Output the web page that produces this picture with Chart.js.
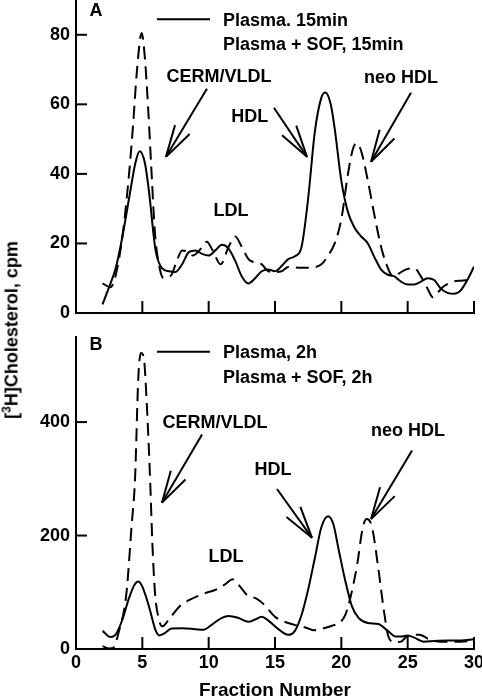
<!DOCTYPE html>
<html>
<head>
<meta charset="utf-8">
<script src="https://cdn.jsdelivr.net/npm/chart.js@4.4.1/dist/chart.umd.min.js"></script>
<style>
  body { margin: 0; background: #fff; width: 482px; height: 698px; position: relative; overflow: hidden; }
  canvas { position: absolute; left: 0; }
  #ytitle {
    position: absolute; left: 12px; top: 330px; line-height: 1; white-space: nowrap;
    font: bold 18px "Liberation Sans", Arial, sans-serif;
    transform: translate(-50%, -50%) rotate(-90deg);
  }
  #ytitle sup { font-size: 12px; line-height: 0; }
</style>
</head>
<body>
<canvas id="chartA" width="482" height="330" style="top:0"></canvas>
<canvas id="chartB" width="482" height="368" style="top:330px"></canvas>
<div id="ytitle">[<sup>3</sup>H]Cholesterol, cpm</div>

<script>
// Panel A - 15 min
const fracA_plasma = [2, 2.5, 3, 3.5, 4, 4.5, 4.8, 5.2, 5.5, 6, 6.5, 7, 7.5, 8, 8.5, 9, 9.5, 10, 10.5, 11, 11.5, 12, 12.5, 13, 13.5, 14, 14.5, 15, 15.5, 16, 16.5, 17, 17.5, 18, 18.5, 18.8, 19.2, 19.5, 20, 20.5, 21, 21.5, 22, 22.5, 23, 23.5, 24, 24.5, 25, 25.5, 26, 26.5, 27, 27.5, 28, 28.5, 29, 29.5, 30];
const cpmA_plasma  = [2.5, 7.5, 13, 22, 33, 43.5, 46.5, 43, 35, 18, 12.8, 12, 11.8, 14, 17.5, 18, 17, 16.5, 18, 19.6, 18.5, 15, 10.5, 8.5, 10, 12, 12.5, 12, 13.5, 15.5, 16.3, 19, 33, 52, 62, 63.4, 60, 53, 38, 29, 24.5, 22, 20, 16, 12.5, 11, 10.5, 9, 8.2, 8.2, 9, 10, 9.5, 7, 5.8, 5.5, 6.5, 9.5, 13.3];
const fracA_sof = [2, 2.6, 3, 3.5, 4, 4.3, 4.6, 4.95, 5.2, 5.45, 5.7, 5.95, 6.3, 6.6, 7.2, 7.6, 8, 8.5, 8.8, 9.3, 9.85, 10.3, 10.9, 11.5, 12, 12.5, 13, 13.5, 14, 14.5, 15, 15.5, 16, 17, 18, 18.5, 19, 19.5, 20, 20.5, 20.9, 21.2, 21.5, 22, 22.5, 23, 23.4, 23.9, 24.4, 24.8, 25.5, 26, 26.5, 26.9, 27.3, 27.7, 28.4, 29, 29.6];
const cpmA_sof  = [8.5, 7.4, 11, 22, 40, 54, 70, 80.5, 73, 58, 40, 23, 13, 10, 11, 15, 18, 17.5, 16.5, 18, 20.5, 18, 14, 19, 22, 19, 15.5, 14.5, 14, 12, 11.8, 12, 13.2, 13, 13.2, 14, 16.5, 20, 27, 40, 47.5, 48.8, 46.5, 38, 28, 19, 14, 10.5, 11.5, 12.4, 12.9, 10.5, 7, 4.5, 6, 7.6, 9, 9.3, 9.5];

// Panel B - 2 h
const fracB_plasma = [2, 2.6, 3, 3.5, 4, 4.4, 4.7, 5, 5.5, 6, 6.3, 6.7, 7.2, 8, 9, 9.6, 10.3, 11, 11.5, 12.2, 13, 13.5, 14, 14.5, 15.2, 16, 16.5, 17, 17.5, 18, 18.5, 19, 19.4, 19.8, 20.3, 20.8, 21.3, 22, 22.8, 23.5, 24.1, 24.5, 25, 25.5, 26.2, 27, 28, 29, 30];
const cpmB_plasma  = [32, 21, 26, 52, 90, 113, 119, 110, 75, 33, 24, 28, 36, 36.5, 35, 34, 44, 55, 58, 55, 48, 52, 57, 50, 36, 25, 32, 60, 105, 160, 215, 234, 220, 175, 120, 75, 55, 46, 44, 32, 22, 22, 24, 20, 13, 14, 15, 15, 17];
const fracB_sof = [2, 2.5, 2.8, 3.2, 3.8, 4.2, 4.45, 4.7, 4.9, 5.1, 5.35, 5.6, 5.75, 5.95, 6.2, 6.5, 7, 7.8, 8.6, 9.7, 10.6, 11.3, 11.8, 12.3, 12.9, 13.6, 14.1, 15, 15.4, 16.4, 17.3, 17.9, 18.6, 19.3, 19.9, 20.3, 20.7, 21.2, 21.6, 21.9, 22.3, 22.8, 23.2, 23.55, 24, 24.5, 25, 25.9, 26.7, 27.5, 29, 30];
const cpmB_sof  = [5, 1, 2, 28, 98, 220, 300, 480, 522, 515, 425, 290, 190, 100, 57, 40, 52, 75, 87, 98, 105, 115, 123, 112, 95, 89, 80, 57, 51, 43, 38, 33, 36, 41, 47, 60, 92, 150, 212, 229, 216, 140, 69, 22, 12, 13, 23, 25, 16, 13, 13, 15];

const xTicks = [0, 5, 10, 15, 20, 25, 30];
const yTicksA = [0, 20, 40, 60, 80];
const yTicksB = [0, 200, 400];
const seriesA = ['Plasma. 15min', 'Plasma + SOF, 15min'];
const seriesB = ['Plasma, 2h', 'Plasma + SOF, 2h'];
const peakNames = ['CERM/VLDL', 'LDL', 'HDL', 'neo HDL'];

const FONT = '"Liberation Sans", Arial, sans-serif';

function pts(xs, ys) {
  return xs.map((v, i) => ({ x: v, y: ys[i] }));
}

function line(ctx, x1, y1, x2, y2) {
  ctx.beginPath();
  ctx.moveTo(x1, y1);
  ctx.lineTo(x2, y2);
  ctx.stroke();
}

// open V arrow head like in the figure
function arrow(ctx, x1, y1, x2, y2) {
  line(ctx, x1, y1, x2, y2);
  const a = Math.atan2(y1 - y2, x1 - x2);
  const len = 33, spread = 15 * Math.PI / 180;
  line(ctx, x2, y2, x2 + len * Math.cos(a - spread), y2 + len * Math.sin(a - spread));
  line(ctx, x2, y2, x2 + len * Math.cos(a + spread), y2 + len * Math.sin(a + spread));
}

const annotate = {
  id: 'annotate',
  afterDatasetsDraw(chart, args, opts) {
    const { ctx, chartArea: area, scales: { x, y } } = chart;
    const px = v => x.getPixelForValue(v);
    const py = v => y.getPixelForValue(v);
    ctx.save();
    ctx.strokeStyle = '#000';
    ctx.fillStyle = '#000';
    ctx.lineWidth = 2;
    ctx.setLineDash([]);

    // inward tick marks
    x.ticks.forEach(t => {
      if (t.value <= x.min) return;
      const p = px(t.value);
      line(ctx, p, area.bottom, p, area.bottom - 12);
    });
    y.ticks.forEach(t => {
      if (t.value <= y.min) return;
      const p = py(t.value);
      line(ctx, area.left, p, area.left + 11, p);
    });

    ctx.font = 'bold 18px ' + FONT;
    ctx.textBaseline = 'middle';

    // panel letter
    ctx.textAlign = 'center';
    ctx.fillText(opts.panel, px(opts.panelAt[0]), py(opts.panelAt[1]));

    // legend: only the solid series has a sample line
    const lg = opts.legend;
    line(ctx, px(lg.line[0]), py(lg.line[2]), px(lg.line[1]), py(lg.line[2]));
    ctx.textAlign = 'left';
    chart.data.datasets.forEach((ds, i) => {
      ctx.fillText(ds.label, px(lg.textX), py(lg.textY[i]));
    });

    // peak labels and arrows
    ctx.textAlign = 'center';
    opts.notes.forEach((n, i) => {
      ctx.fillText(peakNames[i], px(n.at[0]), py(n.at[1]));
      if (n.from) arrow(ctx, px(n.from[0]), py(n.from[1]), px(n.to[0]), py(n.to[1]));
    });
    ctx.restore();
  }
};

function makeChart(id, labels, sets, yMax, yTicks, pad, xHeight, showX, notes) {
  return new Chart(document.getElementById(id), {
    type: 'line',
    data: {
      datasets: [
        { label: labels[0], data: sets[0], borderColor: '#000', borderWidth: 2 },
        { label: labels[1], data: sets[1], borderColor: '#000', borderWidth: 2, borderDash: [13, 7] }
      ]
    },
    options: {
      responsive: false,
      animation: false,
      devicePixelRatio: 1,
      layout: { padding: { top: pad, right: 8, left: 0, bottom: 0 } },
      elements: { point: { radius: 0 }, line: { cubicInterpolationMode: 'monotone', fill: false } },
      plugins: { legend: { display: false }, tooltip: { enabled: false }, annotate: notes },
      scales: {
        x: {
          type: 'linear', min: 0, max: 30,
          afterBuildTicks: s => { s.ticks = xTicks.map(v => ({ value: v })); },
          afterFit: s => { s.height = xHeight; s.paddingLeft = 0; s.paddingRight = 0; },
          grid: { display: false, drawTicks: false },
          border: { display: true, color: '#000', width: 2 },
          ticks: { display: showX, padding: 3, color: '#000', maxRotation: 0, font: { family: FONT, size: 18, weight: 'bold' } },
          title: { display: showX, text: 'Fraction Number', color: '#000', padding: { top: 0, bottom: -4 }, font: { family: FONT, size: 19, weight: 'bold', lineHeight: 1.2 } }
        },
        y: {
          min: 0, max: yMax,
          afterBuildTicks: s => { s.ticks = yTicks.map(v => ({ value: v })); },
          afterFit: s => { s.width = 76; s.paddingTop = 0; s.paddingBottom = 0; },
          grid: { display: false, drawTicks: false },
          border: { display: true, color: '#000', width: 2 },
          ticks: { padding: 6, color: '#000', font: { family: FONT, size: 18, weight: 'bold' } }
        }
      }
    },
    plugins: [annotate]
  });
}

makeChart('chartA', seriesA,
  [pts(fracA_plasma, cpmA_plasma), pts(fracA_sof, cpmA_sof)],
  90, yTicksA, 0, 17, false,
  {
    panel: 'A', panelAt: [1.5, 86.9],
    legend: { line: [6.1, 10.1, 84.5], textX: 11.08, textY: [84.0, 77.1] },
    notes: [
      { at: [10.78, 67.9], from: [9.87, 64.5], to: [6.78, 44.9] },
      { at: [11.68, 29.4] },
      { at: [13.1, 56.4], from: [14.92, 59.0], to: [17.41, 44.9] },
      { at: [24.5, 67.6], from: [25.25, 63.3], to: [22.24, 43.5] }
    ]
  });

makeChart('chartB', seriesB,
  [pts(fracB_plasma, cpmB_plasma), pts(fracB_sof, cpmB_sof)],
  550, yTicksB, 7, 49, true,
  {
    panel: 'B', panelAt: [1.5, 536.6],
    legend: { line: [6.1, 10.1, 524.2], textX: 11.08, textY: [522.4, 478.3] },
    notes: [
      { at: [10.48, 399], from: [9.5, 378], to: [6.48, 258] },
      { at: [11.31, 162] },
      { at: [14.85, 316], from: [15.15, 282], to: [17.79, 196] },
      { at: [25.02, 385], from: [25.33, 350], to: [22.24, 229] }
    ]
  });
</script>
</body>
</html>
